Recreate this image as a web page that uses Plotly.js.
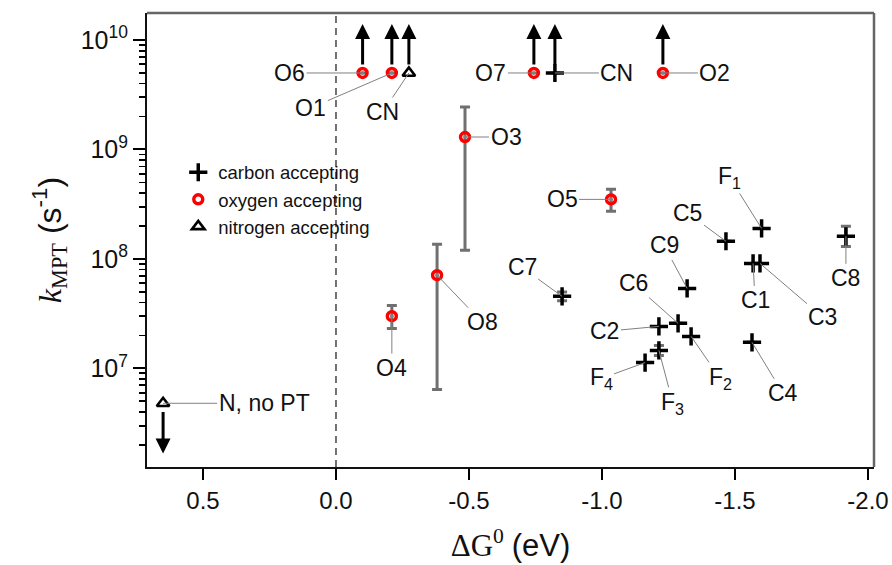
<!DOCTYPE html>
<html>
<head>
<meta charset="utf-8">
<script src="https://cdn.plot.ly/plotly-3.0.1.min.js"></script>
<style>html,body{margin:0;padding:0;background:#fff;}#chart{width:892px;height:565px;}</style>
</head>
<body>
<div id="chart"></div>
<script>
// ---------- DATA ----------
// carbon accepting
const carbonNames = ['C1','C2','C3','C4','C5','C6','C7','C8','C9','F<sub>1</sub>','F<sub>2</sub>','F<sub>3</sub>','F<sub>4</sub>','CN'];
const carbonDG    = [-1.568,-1.214,-1.594,-1.564,-1.466,-1.286,-0.85,-1.917,-1.32,-1.60,-1.335,-1.214,-1.162,-0.823];
const carbonK     = [9.1e7,2.42e7,9.1e7,1.73e7,1.45e8,2.58e7,4.55e7,1.61e8,5.38e7,1.9e8,1.96e7,1.46e7,1.13e7,5e9];
const carbonErrPlus  = [null,null,null,null,null,null,0.45e7,0.38e8,null,null,null,0.16e7,null,null];
const carbonErrMinus = [null,null,null,null,null,null,0.40e7,0.31e8,null,null,null,0.15e7,null,null];
const carbonBound = [null,null,null,null,null,null,null,null,null,null,null,null,null,'lower'];

// oxygen accepting
const oxygenNames = ['O1','O2','O3','O4','O5','O6','O7','O8'];
const oxygenDG    = [-0.21,-1.229,-0.485,-0.21,-1.034,-0.10,-0.744,-0.38];
const oxygenK     = [5e9,5e9,1.3e9,3.0e7,3.5e8,5e9,5e9,7.1e7];
const oxygenErrPlus  = [null,null,1.14e9,0.76e7,0.84e8,null,null,6.5e7];
const oxygenErrMinus = [null,null,1.18e9,0.68e7,0.78e8,null,null,6.46e7];
const oxygenBound = ['lower','lower',null,null,null,'lower','lower',null];

// nitrogen accepting
const nitrogenNames = ['CN','N, no PT'];
const nitrogenDG    = [-0.274,0.65];
const nitrogenK     = [5e9,4.8e6];
const nitrogenBound = ['lower','upper'];

// axis ticks
const xTickVals   = [0.5,0.0,-0.5,-1.0,-1.5,-2.0];
const xTickLabels = ['0.5','0.0','-0.5','-1.0','-1.5','-2.0'];
const yTickVals   = [1e7,1e8,1e9,1e10];
const yTickLabels = ['10<sup>7</sup>','10<sup>8</sup>','10<sup>9</sup>','10<sup>10</sup>'];

// ---------- PLACEMENT (label offsets in px, relative to marker) ----------
const carbonLabelOffsets = [[2,37],[-54,5],[63,54],[31,51],[-38,-28],[-45,-40],[-40,-29],[0,42],[-23,-43],[-32,-51],[29,42],[14,53],[-44,16],[62,0]];
const oxygenLabelOffsets = [[-81,35],[52,0],[41,0],[0,52],[-49,0],[-73,0],[-43,0],[45,47]];
const nitrogenLabelOffsets = [[-26,39],[101,0]];

const SANS = 'Liberation Sans, Arial, Helvetica, sans-serif';
const SERIF = 'Liberation Serif, Times New Roman, serif';
const ERR_COLOR = '#707070';
const LEADER = '#808080';
const Y_RANGE = [6.099, 10.247];

// minor log ticks (2..9 within each decade)
const yMinorTicks = [];
for (let e = 6; e <= 10; e++) for (let d = 2; d <= 9; d++) yMinorTicks.push(d * Math.pow(10, e));

function errObj(plus, minus){
  return {type:'data', symmetric:false, array:plus, arrayminus:minus,
          color:ERR_COLOR, thickness:3, width:5};
}

const traces = [
  {
    name:'minor-ticks-holder', type:'scatter', mode:'markers', showlegend:false, hoverinfo:'skip',
    x:[carbonDG[0]], y:[carbonK[0]], yaxis:'y2',
    marker:{size:1, opacity:0}
  },
  {
    name:'carbon accepting', type:'scatter', mode:'markers',
    x:carbonDG, y:carbonK,
    error_y:errObj(carbonErrPlus, carbonErrMinus),
    marker:{symbol:'cross-thin-open', size:13, color:'black', line:{color:'black', width:3.5}}
  },
  {
    name:'oxygen accepting', type:'scatter', mode:'markers',
    x:oxygenDG, y:oxygenK,
    error_y:errObj(oxygenErrPlus, oxygenErrMinus),
    marker:{symbol:'circle-open', size:9, color:'#ff0000', line:{color:'#ff0000', width:3.4}}
  },
  {
    name:'oxygen centre', type:'scatter', mode:'markers', showlegend:false, hoverinfo:'skip',
    x:oxygenDG, y:oxygenK,
    marker:{symbol:'circle', size:3.5, color:'#808080'}
  },
  {
    name:'nitrogen accepting', type:'scatter', mode:'markers',
    x:nitrogenDG, y:nitrogenK,
    marker:{symbol:'triangle-up-open', size:11, color:'black', line:{color:'black', width:2.6}}
  }
];

const annotations = [];
function addLabels(names, xs, ys, offs){
  names.forEach((n,i)=>{
    annotations.push({
      x:xs[i], y:Math.log10(ys[i]), xref:'x', yref:'y',
      text:n, showarrow:true, arrowhead:0, arrowwidth:1, arrowcolor:LEADER,
      ax:offs[i][0], ay:offs[i][1], standoff:0,
      font:{family:SANS, size:23, color:'#111'}
    });
  });
}
addLabels(carbonNames, carbonDG, carbonK, carbonLabelOffsets);
addLabels(oxygenNames, oxygenDG, oxygenK, oxygenLabelOffsets);
addLabels(nitrogenNames, nitrogenDG, nitrogenK, nitrogenLabelOffsets);

// bound arrows (lower bound -> up, upper bound -> down)
function addBounds(xs, ys, bounds){
  bounds.forEach((b,i)=>{
    if(!b) return;
    const ly = Math.log10(ys[i]);
    const tail = b==='lower' ? ly + 0.063 : ly - 0.065;
    const head = b==='lower' ? ly + 0.447 : ly - 0.46;
    annotations.push({
      x:xs[i], y:head, xref:'x', yref:'y',
      ax:xs[i], ay:tail, axref:'x', ayref:'y',
      text:'', showarrow:true, arrowhead:2, arrowsize:1, arrowwidth:3, arrowcolor:'black', standoff:0
    });
  });
}
addBounds(carbonDG, carbonK, carbonBound);
addBounds(oxygenDG, oxygenK, oxygenBound);
addBounds(nitrogenDG, nitrogenK, nitrogenBound);

const layout = {
  width:892, height:565,
  margin:{l:147, r:18, t:13, b:98},
  paper_bgcolor:'white', plot_bgcolor:'white',
  font:{family:SANS, size:24, color:'#111'},
  showlegend:true,
  legend:{x:0.043, y:0.69, xanchor:'left', yanchor:'top', bgcolor:'rgba(0,0,0,0)',
          font:{family:SANS, size:18.5, color:'#111'}, tracegroupgap:0},
  xaxis:{
    range:[0.7105,-2.0226], tickvals:xTickVals, ticktext:xTickLabels,
    ticks:'outside', ticklen:11, tickwidth:2, tickcolor:'black',
    showline:true, linecolor:'#111', linewidth:2, showgrid:false, zeroline:false,
    tickfont:{family:SANS, size:24, color:'#111'},
    title:{text:'ΔG<sup>0</sup> <span style="font-family:Liberation Sans, Arial, sans-serif">(eV)</span>',
           font:{family:SERIF, size:31, color:'#111'}, standoff:22}
  },
  yaxis:{
    type:'log', range:Y_RANGE, tickvals:yTickVals, ticktext:yTickLabels,
    ticks:'outside', ticklen:12, tickwidth:2, tickcolor:'black',
    showline:true, linecolor:'#111', linewidth:2, showgrid:false, zeroline:false,
    tickfont:{family:SANS, size:25, color:'#111'},
    title:{text:'<span style="font-family:Liberation Serif, Times New Roman, serif"><i>k</i><sub>MPT</sub></span> (s<sup>-1</sup>)',
           font:{family:SANS, size:32, color:'#111'}, standoff:10}
  },
  yaxis2:{
    type:'log', range:Y_RANGE, autorange:false, overlaying:'y', side:'left', anchor:'x',
    tickmode:'array', tickvals:yMinorTicks, showticklabels:false,
    ticks:'outside', ticklen:7, tickwidth:1.8, tickcolor:'black',
    showline:false, showgrid:false, zeroline:false
  },
  shapes:[
    {type:'line', xref:'x', yref:'paper', x0:0, x1:0, y0:0, y1:1, layer:'below',
     line:{color:'#444', width:1.5, dash:'7px,5px'}},
    {type:'line', xref:'paper', yref:'paper', x0:0, x1:1, y0:1, y1:1, line:{color:'#666', width:2.5}},
    {type:'line', xref:'paper', yref:'paper', x0:1, x1:1, y0:0, y1:1, line:{color:'#666', width:2.5}}
  ],
  annotations:annotations
};

Plotly.newPlot('chart', traces, layout, {displayModeBar:false, staticPlot:true});
</script>
</body>
</html>
